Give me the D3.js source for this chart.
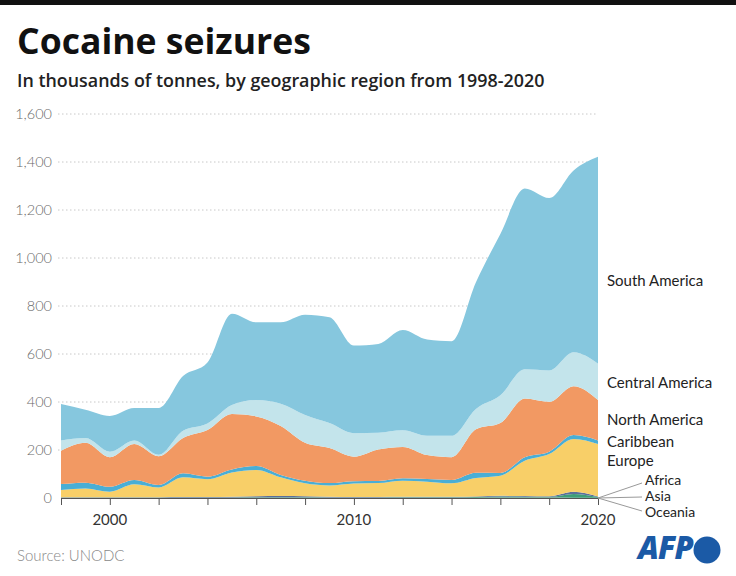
<!DOCTYPE html>
<html>
<head>
<meta charset="utf-8">
<script src="https://cdn.jsdelivr.net/npm/d3@7"></script>
<style>
  html, body { margin: 0; padding: 0; background: #fff; }
  svg { display: block; }
  text { font-family: "Open Sans", "Noto Sans", sans-serif; }
</style>
</head>
<body>
<svg id="chart" width="736" height="576"></svg>
<script>
// ---- Data ----
const years = [1998,1999,2000,2001,2002,2003,2004,2005,2006,2007,2008,2009,2010,2011,2012,2013,2014,2015,2016,2017,2018,2019,2020];
const oceania       = [1,1,1,1,1,1,1,1,1,1,1,1,1,1,1,1,1,1,2,2,2,1,1];
const asia          = [1,1,1,1,1,1,1,1,2,2,2,1,1,1,2,2,2,3,4,3,3,16,3];
const africa        = [1,1,1,1,1,2,2,3,4,5,4,3,2,2,2,2,2,2,3,3,2,9,2];
const europe        = [30,37,23,54,41,82,74,101,110,78,54,47,56,58,67,63,56,77,84,147,176,220,219];
const caribbean     = [25,24,21,18,10,17,11,13,16,10,11,10,10,9,10,11,14,22,11,15,10,16,15];
const northAmerica  = [139,166,123,150,120,147,194,231,207,204,158,146,102,131,131,100,95,181,208,245,208,204,168];
const centralAmerica= [43,20,23,15,6,30,27,37,68,93,116,104,98,70,69,80,89,85,116,121,130,141,151];
const southAmerica  = [152,118,149,135,195,228,255,381,324,339,418,441,365,370,418,401,394,528,672,754,719,758,863];

const seriesNames = ["Oceania","Asia","Africa","Europe","Caribbean","North America","Central America","South America"];
const seriesValues = [oceania, asia, africa, europe, caribbean, northAmerica, centralAmerica, southAmerica];
const seriesColors = ["#8a8f99","#3d9f78","#5b6f9c","#f8cf68","#4aaed5","#f29963","#c3e4eb","#86c7de"];

const yTicks = [0,200,400,600,800,1000,1200,1400,1600];
const xTickYears = [1998,2000,2002,2004,2006,2008,2010,2012,2014,2016,2018,2020];
const xLabelYears = [2000,2010,2020];

// ---- Build table ----
const table = years.map((yr, i) => {
  const row = { year: yr };
  seriesNames.forEach((n, k) => row[n] = seriesValues[k][i]);
  return row;
});

const svg = d3.select("#chart");
const W = 736, H = 576;

const x = d3.scaleLinear().domain([1998, 2020]).range([61, 598]);
const y = d3.scaleLinear().domain([0, 1600]).range([498, 114]);

// top black bar
svg.append("rect").attr("x", 0).attr("y", 0).attr("width", W).attr("height", 5).attr("fill", "#111");

function fit(sel, target) {
  const w = sel.node().getComputedTextLength();
  const fs = parseFloat(sel.attr("font-size"));
  sel.attr("font-size", (fs * target / w).toFixed(2));
}

const title = svg.append("text").attr("x", 17).attr("y", 54)
  .attr("font-size", 36).attr("font-weight", 700).attr("fill", "#111")
  .text("Cocaine seizures");
fit(title, 294);

const sub = svg.append("text").attr("x", 17).attr("y", 87)
  .attr("font-size", 18).attr("font-weight", 600).attr("fill", "#222")
  .text("In thousands of tonnes, by geographic region from 1998-2020");
fit(sub, 528);

// gridlines
svg.append("g").selectAll("line").data(yTicks.filter(d => d > 0)).join("line")
  .attr("x1", 58).attr("x2", 598)
  .attr("y1", d => y(d)).attr("y2", d => y(d))
  .attr("stroke", "#c8c8c8").attr("stroke-width", 1)
  .attr("stroke-dasharray", "1.5,2.5");

// y labels
svg.append("g").selectAll("text").data(yTicks).join("text")
  .attr("x", 52).attr("y", d => y(d) + 5)
  .attr("text-anchor", "end")
  .attr("font-size", 14.5).attr("font-weight", 300).attr("fill", "#6a6a6a")
  .style("font-family", "Lato, 'Open Sans', sans-serif")
  .text(d => d3.format(",")(d));

// stacked areas
const stack = d3.stack().keys(seriesNames).order(d3.stackOrderNone).offset(d3.stackOffsetNone);
const layers = stack(table);
const area = d3.area()
  .x(d => x(d.data.year))
  .y0(d => y(d[0]))
  .y1(d => y(d[1]))
  .curve(d3.curveMonotoneX);

svg.append("g").selectAll("path").data(layers).join("path")
  .attr("d", area)
  .attr("fill", (d, i) => seriesColors[i]);

// x axis
const xAxis = d3.axisBottom(x).tickValues(xTickYears).tickSize(7).tickFormat("");
const gx = svg.append("g").attr("transform", `translate(0,${y(0)})`).call(xAxis);
gx.select(".domain").attr("stroke", "#555");
gx.selectAll(".tick line").attr("stroke", "#555");

svg.append("g").selectAll("text").data(xLabelYears).join("text")
  .attr("x", d => x(d)).attr("y", 525)
  .attr("text-anchor", "middle")
  .attr("font-size", 15).attr("fill", "#333")
  .style("font-family", "Lato, 'Open Sans', sans-serif")
  .text(d => d);

// series labels
const labelFont = "Lato, 'Open Sans', sans-serif";
const rightLabels = [
  { name: "South America", y: 286 },
  { name: "Central America", y: 388 },
  { name: "North America", y: 425 },
  { name: "Caribbean", y: 447 },
  { name: "Europe", y: 466 }
];
svg.append("g").selectAll("text").data(rightLabels).join("text")
  .attr("x", 607).attr("y", d => d.y)
  .attr("font-size", 15).attr("fill", "#222")
  .style("font-family", labelFont)
  .text(d => d.name);

const smallLabels = [
  { name: "Africa", y: 484.5, ly: 483 },
  { name: "Asia", y: 501, ly: 497 },
  { name: "Oceania", y: 516.5, ly: 511 }
];
svg.append("g").selectAll("line").data(smallLabels).join("line")
  .attr("x1", x(2020)).attr("y1", y(0))
  .attr("x2", 642).attr("y2", d => d.ly)
  .attr("stroke", "#999").attr("stroke-width", 1);
svg.append("g").selectAll("text").data(smallLabels).join("text")
  .attr("x", 645).attr("y", d => d.y)
  .attr("font-size", 14).attr("fill", "#222")
  .style("font-family", labelFont)
  .text(d => d.name);

// source
svg.append("text").attr("x", 17).attr("y", 561)
  .attr("font-size", 15).attr("font-weight", 300).attr("fill", "#888")
  .style("font-family", labelFont)
  .text("Source: UNODC");

// AFP logo
const afp = svg.append("text").attr("x", 638).attr("y", 559)
  .attr("font-size", 24).attr("font-weight", 800).attr("font-style", "italic")
  .attr("fill", "#1b5aa6").attr("letter-spacing", -1)
  .style("font-family", "'Open Sans', sans-serif")
  .text("AFP");
fit(afp, 54);
svg.append("circle").attr("cx", 707).attr("cy", 550).attr("r", 13.5).attr("fill", "#1b5aa6");
</script>
</body>
</html>
